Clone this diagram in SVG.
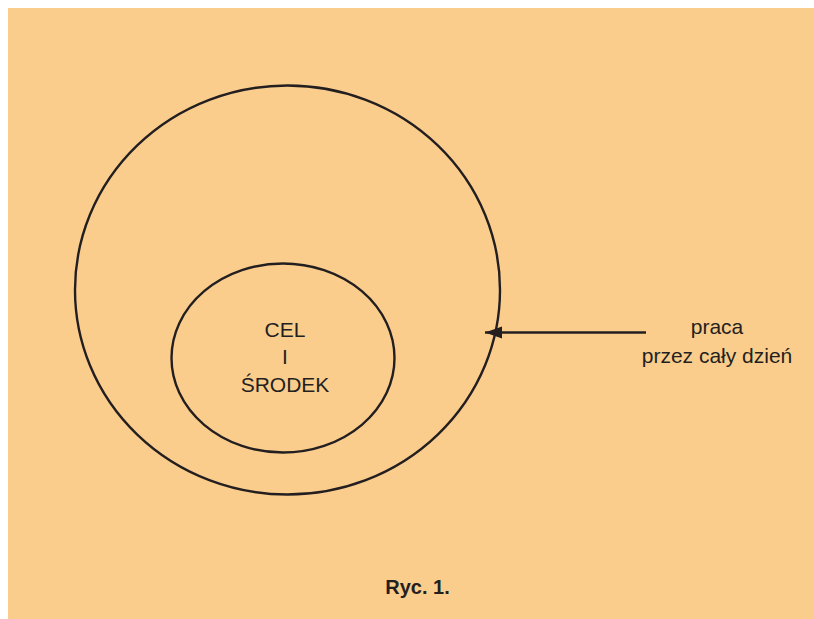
<svg xmlns="http://www.w3.org/2000/svg" width="814" height="619" viewBox="0 0 814 619">
  <style>
    .ring { fill: none; stroke: #231f20; stroke-width: 2.4; }
    .lbl { font-family: "Liberation Sans", Arial, sans-serif; font-size: 21px; fill: #231f20; text-anchor: middle; }
    .cap { font-family: "Liberation Sans", Arial, sans-serif; font-size: 20px; font-weight: bold; fill: #231f20; text-anchor: middle; }
    .link { stroke: #231f20; stroke-width: 2.6; fill: none; }
  </style>
  <defs>
    <marker id="arrowhead" markerUnits="userSpaceOnUse" markerWidth="18" markerHeight="14" refX="17" refY="7" orient="auto">
      <path d="M0,1 L17,7 L0,13 Z" fill="#231f20"/>
    </marker>
  </defs>

  <rect x="0" y="0" width="814" height="619" fill="#ffffff"/>
  <rect x="8" y="8" width="806" height="611" fill="#fbcd8d"/>

  <g id="outer">
    <ellipse class="ring" cx="287.5" cy="290" rx="212.5" ry="204.5"/>
  </g>

  <g id="inner">
    <ellipse class="ring" cx="283" cy="358" rx="111.5" ry="94.5"/>
    <text class="lbl" x="285" y="337">CEL</text>
    <text class="lbl" x="285" y="364">I</text>
    <text class="lbl" x="285" y="392">ŚRODEK</text>
  </g>

  <g id="work">
    <text class="lbl" x="717" y="334">praca</text>
    <text class="lbl" x="717" y="363">przez cały dzień</text>
  </g>

  <g id="connectors">
    <line class="link" x1="646" y1="332.5" x2="485" y2="332.5" marker-end="url(#arrowhead)"/>
  </g>

  <g id="caption">
    <text class="cap" x="417.5" y="594">Ryc. 1.</text>
  </g>
</svg>
